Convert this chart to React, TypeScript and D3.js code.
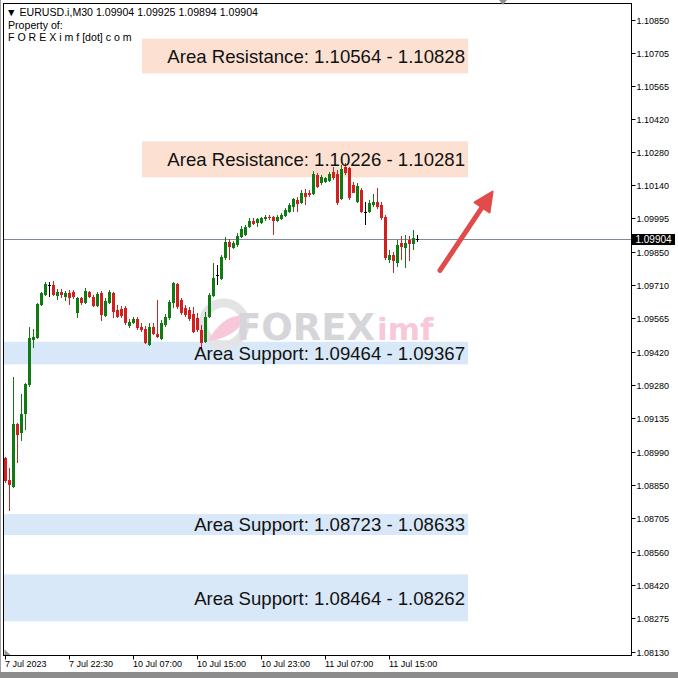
import React from "react";
import * as d3 from "d3";

const opens = [1.08963,1.08869,1.08838,1.09110,1.09071,1.09153,1.09277,1.09471,1.09479,1.09621,1.09664,1.09707,1.09707,1.09659,1.09677,1.09655,1.09672,1.09677,1.09587,1.09651,1.09629,1.09677,1.09655,1.09616,1.09672,1.09574,1.09629,1.09672,1.09599,1.09604,1.09608,1.09531,1.09544,1.09561,1.09527,1.09518,1.09449,1.09527,1.09497,1.09475,1.09535,1.09565,1.09629,1.09711,1.09642,1.09608,1.09599,1.09582,1.09565,1.09514,1.09462,1.09570,1.09659,1.09750,1.09733,1.09823,1.09892,1.09866,1.09879,1.09913,1.09922,1.09956,1.09982,1.09973,1.09973,1.09991,1.09999,1.09999,1.09982,1.09991,1.10003,1.10021,1.10042,1.10072,1.10059,1.10102,1.10102,1.10098,1.10180,1.10145,1.10150,1.10154,1.10193,1.10184,1.10076,1.10214,1.10210,1.10137,1.10064,1.10115,1.10021,1.10021,1.10051,1.10064,1.10051,1.09999,1.09814,1.09836,1.09805,1.09887,1.09866,1.09900,1.09883,1.09904];
const highs = [1.08967,1.08921,1.09312,1.09114,1.09239,1.09286,1.09527,1.09518,1.09629,1.09677,1.09720,1.09720,1.09724,1.09690,1.09690,1.09681,1.09685,1.09685,1.09655,1.09655,1.09694,1.09681,1.09664,1.09677,1.09681,1.09651,1.09685,1.09677,1.09621,1.09616,1.09616,1.09561,1.09570,1.09570,1.09544,1.09531,1.09544,1.09544,1.09642,1.09557,1.09582,1.09642,1.09720,1.09715,1.09651,1.09621,1.09612,1.09612,1.09587,1.09535,1.09591,1.09672,1.09801,1.09793,1.09836,1.09913,1.09905,1.09896,1.09931,1.09961,1.09965,1.09995,1.09995,1.09995,1.09999,1.10008,1.10008,1.10003,1.10008,1.10016,1.10038,1.10059,1.10081,1.10085,1.10115,1.10119,1.10115,1.10197,1.10188,1.10180,1.10171,1.10193,1.10214,1.10201,1.10223,1.10231,1.10214,1.10150,1.10145,1.10124,1.10064,1.10072,1.10098,1.10124,1.10064,1.10008,1.09857,1.09849,1.09900,1.09918,1.09922,1.09918,1.09943,1.09925];
const lows = [1.08856,1.08735,1.08834,1.08942,1.09036,1.09084,1.09269,1.09436,1.09475,1.09616,1.09659,1.09655,1.09659,1.09642,1.09651,1.09638,1.09621,1.09646,1.09565,1.09621,1.09625,1.09651,1.09612,1.09612,1.09552,1.09570,1.09625,1.09565,1.09565,1.09565,1.09535,1.09522,1.09540,1.09514,1.09505,1.09454,1.09445,1.09492,1.09479,1.09471,1.09527,1.09557,1.09608,1.09604,1.09578,1.09570,1.09552,1.09501,1.09505,1.09424,1.09458,1.09565,1.09655,1.09707,1.09728,1.09814,1.09814,1.09862,1.09870,1.09909,1.09918,1.09952,1.09965,1.09956,1.09969,1.09982,1.09986,1.09922,1.09978,1.09986,1.09999,1.10016,1.10021,1.10021,1.10055,1.10051,1.10085,1.10094,1.10124,1.10137,1.10145,1.10150,1.10158,1.10051,1.10072,1.10180,1.10072,1.10102,1.10059,1.10016,1.09965,1.10016,1.10042,1.10034,1.09986,1.09814,1.09805,1.09759,1.09784,1.09814,1.09780,1.09810,1.09857,1.09894];
const closes = [1.08865,1.08847,1.09110,1.09062,1.09153,1.09282,1.09479,1.09484,1.09625,1.09672,1.09711,1.09707,1.09664,1.09677,1.09664,1.09672,1.09651,1.09655,1.09651,1.09629,1.09681,1.09655,1.09616,1.09668,1.09578,1.09638,1.09677,1.09591,1.09570,1.09574,1.09544,1.09548,1.09561,1.09522,1.09514,1.09458,1.09527,1.09497,1.09484,1.09544,1.09570,1.09634,1.09715,1.09612,1.09587,1.09578,1.09561,1.09505,1.09514,1.09458,1.09570,1.09664,1.09737,1.09750,1.09827,1.09892,1.09870,1.09887,1.09918,1.09948,1.09956,1.09982,1.09969,1.09991,1.09995,1.09999,1.09995,1.09982,1.09999,1.10008,1.10029,1.10051,1.10077,1.10055,1.10106,1.10085,1.10094,1.10184,1.10128,1.10171,1.10167,1.10184,1.10167,1.10059,1.10206,1.10188,1.10081,1.10106,1.10133,1.10021,1.10021,1.10059,1.10064,1.10042,1.09995,1.09823,1.09836,1.09810,1.09879,1.09870,1.09887,1.09883,1.09909,1.09904];

const priceTicks = [1.10850,1.10705,1.10565,1.10420,1.10280,1.10140,1.09995,1.09850,1.09710,1.09565,1.09420,1.09280,1.09135,1.08990,1.08850,1.08705,1.08560,1.08420,1.08275,1.08130];
const timeTickBars = [0,16,32,48,64,80,96];
const timeTickLabels = ["7 Jul 2023","7 Jul 22:30","10 Jul 07:00","10 Jul 15:00","10 Jul 23:00","11 Jul 07:00","11 Jul 15:00"];

const zoneLabels = ["Area Resistance: 1.10564 - 1.10828","Area Resistance: 1.10226 - 1.10281","Area Support: 1.09464 - 1.09367","Area Support: 1.08723 - 1.08633","Area Support: 1.08464 - 1.08262"];
const zoneTops = [1.10768,1.10326,1.09464,1.08723,1.08464];
const zoneBottoms = [1.10618,1.10171,1.09367,1.08633,1.08262];
const zoneKinds = ["res","res","sup","sup","sup"];
const zoneStartBars = [34.25,34.25,-0.3,-0.3,-0.3];
const zoneEndBar = 115.75;

const headerLines = ["\u25BC EURUSD.i,M30  1.09904 1.09925 1.09894 1.09904", "Property of:", "F O R E X i m f [dot] c o m"];
const lastPrice = 1.09904;
const arrowFrom = { bar: 108.75, price: 1.09771 };
const arrowTo = { bar: 121.9, price: 1.10110 };

const PL = 3.5, PR = 631.5, PT = 3.5, PB = 655.5;

export default function App() {
  const x = d3.scaleLinear().domain([0, 103]).range([5, 417]);
  const y = d3.scaleLinear().domain([1.08130, 1.10850]).range([652, 19.5]);
  const font = "'Liberation Sans', Arial, sans-serif";
  const green = "#127a12";
  const red = "#d21f1f";

  const ax = x(arrowFrom.bar), ay = y(arrowFrom.price);
  const bx = x(arrowTo.bar), by = y(arrowTo.price);
  const ang = Math.atan2(by - ay, bx - ax);
  const hl = 19, hw = 9;
  const baseX = bx - hl * Math.cos(ang), baseY = by - hl * Math.sin(ang);
  const px = -Math.sin(ang), py = Math.cos(ang);
  const lp = Math.round(y(lastPrice));

  return (
    <svg width={678} height={678} style={{ position: "fixed", left: 0, top: 0, background: "#fff" }}>
      <rect x={0} y={0} width={678} height={678} fill="#fff" />
      <rect x={0} y={672} width={678} height={6} fill="#8c8c8c" />
      <line x1={0.5} y1={0} x2={0.5} y2={672} stroke="#a0a0a0" />

      {zoneLabels.map((lab, i) => {
        const x0 = Math.max(PL, x(zoneStartBars[i]));
        const x1 = x(zoneEndBar);
        const y0 = y(zoneTops[i]);
        const y1 = y(zoneBottoms[i]);
        return (
          <rect key={"z" + i} x={x0} y={y0} width={x1 - x0} height={y1 - y0}
            fill={zoneKinds[i] === "res" ? "#fce1d2" : "#d8e8f8"} />
        );
      })}

      <g>
        <circle cx={224} cy={324} r={21} fill="none" stroke="#e4e4e6" strokeWidth={9} />
        <path d="M 208 341 Q 224 312 247 316 Q 236 338 208 341 Z" fill="#f6c8da" />
        <text x={236} y={340} fontFamily="'DejaVu Sans', sans-serif" fontWeight="bold" fontSize={37} fill="#d6d6da">FOREX</text>
        <text x={377} y={340} fontFamily="'DejaVu Sans', sans-serif" fontWeight="bold" fontSize={31} fill="#f6c8da">imf</text>
      </g>

      <line x1={PL} x2={PR} y1={lp + 0.5} y2={lp + 0.5} stroke="#7d8a99" strokeWidth={1} />

      {opens.map((o, i) => {
        const c = closes[i];
        const cx = Math.round(x(i));
        const col = o === c ? "#000" : c > o ? green : red;
        const top = Math.round(y(Math.max(o, c)));
        const bot = Math.round(y(Math.min(o, c)));
        const hy = Math.round(y(highs[i]));
        const ly = Math.round(y(lows[i]));
        return (
          <g key={"c" + i}>
            <rect x={cx} y={hy} width={1} height={Math.max(1, ly - hy)} fill={col} />
            <rect x={cx - 1} y={top} width={3} height={Math.max(1, bot - top)} fill={col} />
          </g>
        );
      })}

      {zoneLabels.map((lab, i) => (
        <text key={"zl" + i} x={x(zoneEndBar) - 3} y={(y(zoneTops[i]) + y(zoneBottoms[i])) / 2 + 6.8}
          textAnchor="end" fontFamily={font} fontSize={18.6} fill="#111">{lab}</text>
      ))}

      <line x1={ax} y1={ay} x2={baseX} y2={baseY} stroke="#e24b4b" strokeWidth={5} strokeLinecap="round" />
      <polygon points={`${bx},${by} ${baseX + px * hw},${baseY + py * hw} ${baseX - px * hw},${baseY - py * hw}`} fill="#e24b4b" stroke="#e24b4b" strokeWidth={2} strokeLinejoin="round" />

      <rect x={PL} y={PT} width={PR - PL} height={PB - PT} fill="none" stroke="#000" strokeWidth={1} />

      {priceTicks.map((t, i) => {
        const yy = Math.round(y(t)) + 0.5;
        return (
          <g key={"pt" + i}>
            <line x1={PR} x2={PR + 4} y1={yy} y2={yy} stroke="#000" />
            <text x={PR + 5} y={yy + 3.3} fontFamily={font} fontSize={9} fill="#000">{t.toFixed(5)}</text>
          </g>
        );
      })}
      <rect x={PR + 0.5} y={lp - 5} width={43} height={11} fill="#000" />
      <text x={PR + 22} y={lp + 4} textAnchor="middle" fontFamily={font} fontSize={10} fill="#fff">{lastPrice.toFixed(5)}</text>

      {timeTickBars.map((b, i) => {
        const xx = Math.round(x(b)) + 0.5;
        return (
          <g key={"tt" + i}>
            <line x1={xx} x2={xx} y1={PB} y2={PB + 4} stroke="#000" />
            <text x={xx - 0.5} y={667} fontFamily={font} fontSize={9} fill="#000">{timeTickLabels[i]}</text>
          </g>
        );
      })}
      <polygon points={`${PL + 1},${PB - 6} ${PL + 1},${PB - 0.5} ${PL + 7},${PB - 0.5}`} fill="#909090" />
      <polygon points={`499,0 507,0 503,5`} fill="#909090" />

      {headerLines.map((h, i) => (
        <text key={"h" + i} x={i === 0 ? 6 : 8} y={16 + i * 12.5} fontFamily={font} fontSize={10.6} fill="#000">{h}</text>
      ))}
    </svg>
  );
}
